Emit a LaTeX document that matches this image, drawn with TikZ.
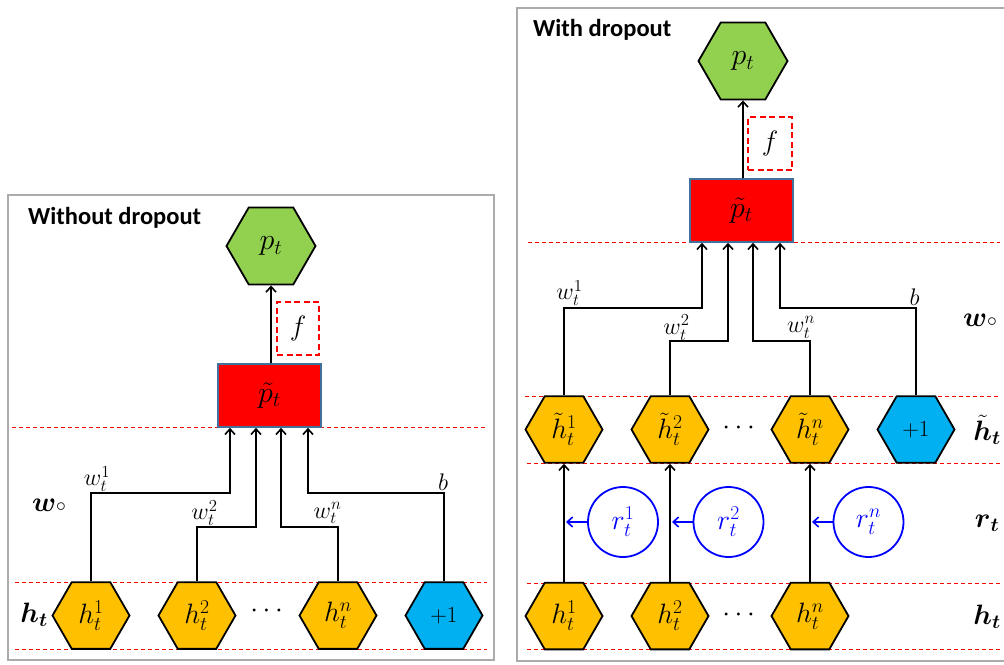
\RequirePackage{fix-cm}
\documentclass[tikz,border=0pt]{standalone}
\usepackage{amsmath,amssymb}
\usepackage{fontspec}
\setsansfont{Carlito}
\usetikzlibrary{shapes.geometric,arrows.meta,calc}
\definecolor{hexorange}{HTML}{FFC000}
\definecolor{hexblue}{HTML}{00B0F0}
\definecolor{hexgreen}{HTML}{92D050}
\definecolor{boxred}{HTML}{FF0000}
\definecolor{boxedge}{HTML}{41719C}
\definecolor{framegray}{HTML}{ABABAB}
\definecolor{rblue}{HTML}{0000FF}
\newcommand\fsHex{\fontsize{28}{32}\selectfont}
\newcommand\fsOne{\fontsize{23}{27}\selectfont}
\newcommand\fsBig{\fontsize{30}{34}\selectfont}
\newcommand\fsW{\fontsize{24}{28}\selectfont}
\newcommand\fsRow{\fontsize{28}{32}\selectfont}
\newcommand\fsTitle{\fontsize{24.5}{28}\selectfont\sffamily\bfseries}
\begin{document}
\begin{tikzpicture}[x=1pt,y=-1pt,
  hexbase/.style={regular polygon,regular polygon sides=6,
     inner sep=0pt,draw=black,line width=1.8pt,font=\fsHex},
  hexo/.style={hexbase,minimum size=77pt,fill=hexorange},
  hexb/.style={hexbase,minimum size=77pt,fill=hexblue,font=\fsOne},
  hexg/.style={hexbase,minimum size=89pt,fill=hexgreen,font=\fsBig},
  rbox/.style={rectangle,draw=boxedge,line width=1.6pt,fill=boxred,minimum width=103pt,minimum height=63pt,inner sep=0pt,font=\fsBig},
  fbox/.style={rectangle,draw=boxred,line width=1.8pt,dash pattern=on 6pt off 3.5pt,minimum width=42pt,minimum height=53pt,inner sep=0pt,font=\fsHex},
  rcirc/.style={circle,draw=rblue,line width=1.8pt,minimum size=70pt,inner sep=0pt,text=rblue,font=\fsHex},
  arr/.style={line width=1.8pt,-{Straight Barb[length=5.5pt,width=10pt,line width=1.6pt]}},
  barr/.style={line width=1.8pt,draw=rblue,-{Straight Barb[length=5.5pt,width=10pt,line width=1.6pt]}},
  sep/.style={draw=boxred,line width=0.9pt,dash pattern=on 4pt off 3pt},
  frame/.style={draw=framegray,line width=2.5pt},
  wlbl/.style={inner sep=0pt,font=\fsW},
  rowlbl/.style={inner sep=0pt,font=\fsRow},
  title/.style={inner sep=0pt,anchor=west,font=\fsTitle}
]
\useasboundingbox (0,0) rectangle (1004,664);
\clip (0,0) rectangle (1004,664);

% ---------------- Left panel: Without dropout ----------------
\draw[frame] (8,195) rectangle (494,660);
\node[title] (Ltitle) at (28,218) {Without dropout};

\draw[sep] (12,427) -- (487,427);
\draw[sep] (15,582) -- (487,582);
\draw[sep] (15,649) -- (487,649);

\node[hexg] (Lp) at (271,246) {$p_t$};
\node[rbox] (Lpt) at (269.5,395.5) {$\tilde{p}_t$};
\node[fbox] (Lf) at (298,328.5) {$f$};
\draw[arr] (Lpt.north -| 271,0) -- (Lp.south);

\node[hexo] (Lh1) at (91,615.5) {$h_t^1$};
\node[hexo] (Lh2) at (197,615.5) {$h_t^2$};
\node[hexo] (Lhn) at (338,615.5) {$h_t^n$};
\node[hexb] (Lb) at (444,615.5) {$+1$};
\node[inner sep=0pt,font=\fsHex] (Ldots) at (269,611) {$\cdots$};

\draw[arr] (Lh1.north) |- (230,493) -- (Lpt.south -| 230,0);
\draw[arr] (Lh2.north) |- (256,527) -- (Lpt.south -| 256,0);
\draw[arr] (Lhn.north) |- (281,527) -- (Lpt.south -| 281,0);
\draw[arr] (Lb.north) |- (308,493) -- (Lpt.south -| 308,0);

\node[wlbl] (Lw1) at (97,479) {$w_t^1$};
\node[wlbl] (Lw2) at (204.5,513) {$w_t^2$};
\node[wlbl] (Lwn) at (327.5,513) {$w_t^n$};
\node[wlbl] (Lwb) at (443,482) {$b$};

\node[rowlbl] (LW) at (49,505) {$\boldsymbol{w}{\scriptstyle\circ}$};
\node[rowlbl] (LH) at (34,615) {$\boldsymbol{h}_{\boldsymbol{t}}$};

% ---------------- Right panel: With dropout ----------------
\draw[frame] (517,8) rectangle (1012,661);
\node[title] (Rtitle) at (533,30) {With dropout};

\draw[sep] (528,242) -- (1000,242);
\draw[sep] (525,396) -- (1000,396);
\draw[sep] (527,463) -- (1000,463);
\draw[sep] (527,583) -- (1000,583);
\draw[sep] (527,649) -- (1000,649);

\node[hexg] (Rp) at (743,61) {$p_t$};
\node[rbox] (Rpt) at (741.5,210.5) {$\tilde{p}_t$};
\node[fbox,minimum width=44pt] (Rf) at (770,143.5) {$f$};
\draw[arr] (Rpt.north -| 743,0) -- (Rp.south);

\node[hexo] (Rt1) at (564,429.5) {$\tilde{h}_t^1$};
\node[hexo] (Rt2) at (670,429.5) {$\tilde{h}_t^2$};
\node[hexo] (Rtn) at (810,429.5) {$\tilde{h}_t^n$};
\node[hexb] (Rb) at (916,429.5) {$+1$};
\node[inner sep=0pt,font=\fsHex] (Rdots1) at (741,428) {$\cdots$};

\draw[arr] (Rt1.north) |- (702,308) -- (Rpt.south -| 702,0);
\draw[arr] (Rt2.north) |- (728,341) -- (Rpt.south -| 728,0);
\draw[arr] (Rtn.north) |- (753,341) -- (Rpt.south -| 753,0);
\draw[arr] (Rb.north) |- (780,308) -- (Rpt.south -| 780,0);

\node[wlbl] (Rw1) at (569.5,293) {$w_t^1$};
\node[wlbl] (Rw2) at (676.5,327.5) {$w_t^2$};
\node[wlbl] (Rwn) at (801,327.5) {$w_t^n$};
\node[wlbl] (Rwb) at (914.5,297) {$b$};

\node[hexo] (Rh1) at (564,616) {$h_t^1$};
\node[hexo] (Rh2) at (670,616) {$h_t^2$};
\node[hexo] (Rhn) at (810,616) {$h_t^n$};
\node[inner sep=0pt,font=\fsHex] (Rdots2) at (741,615) {$\cdots$};

\draw[arr] (Rh1.north) -- (Rt1.south);
\draw[arr] (Rh2.north) -- (Rt2.south);
\draw[arr] (Rhn.north) -- (Rtn.south);

\node[rcirc] (r1) at (623,522) {$r_t^1$};
\node[rcirc] (r2) at (728.5,522) {$r_t^2$};
\node[rcirc] (rn) at (868.5,522) {$r_t^n$};
\coordinate (m1) at (566,522);
\coordinate (m2) at (672,522);
\coordinate (mn) at (812,522);
\draw[barr] (r1.west) -- (m1);
\draw[barr] (r2.west) -- (m2);
\draw[barr] (rn.west) -- (mn);

\node[rowlbl] (RW) at (980,320) {$\boldsymbol{w}{\scriptstyle\circ}$};
\node[rowlbl] (RHt) at (987,430) {$\tilde{\boldsymbol{h}}_{\boldsymbol{t}}$};
\node[rowlbl] (RR) at (987,523) {$\boldsymbol{r}_{\boldsymbol{t}}$};
\node[rowlbl] (RH) at (987,617) {$\boldsymbol{h}_{\boldsymbol{t}}$};
\end{tikzpicture}
\end{document}
